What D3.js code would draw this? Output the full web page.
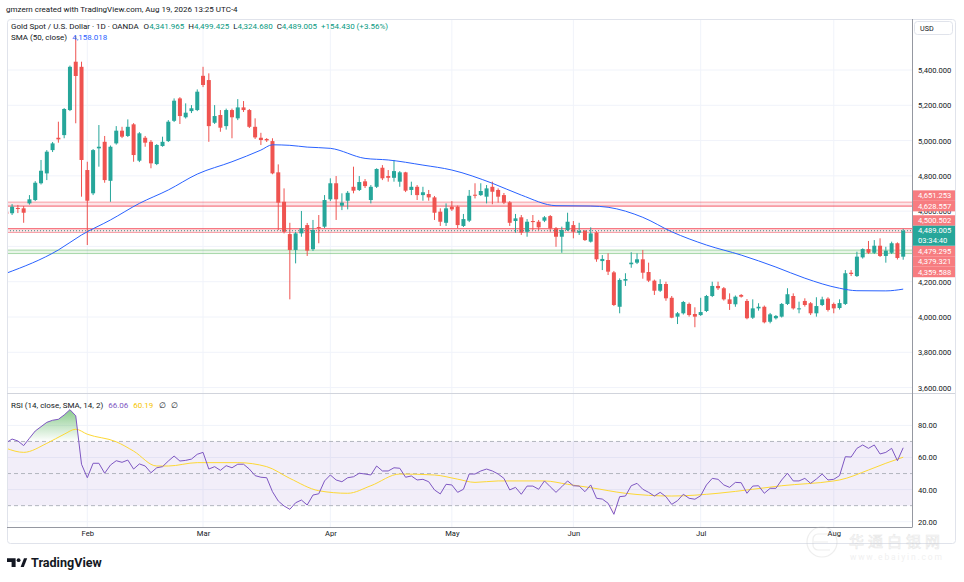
<!DOCTYPE html>
<html>
<head>
<meta charset="utf-8">
<script src="https://cdn.jsdelivr.net/npm/d3@7"></script>
<style>
  body { margin: 0; background: #fff; }
  svg { display: block; font-family: Roboto, "Liberation Sans", sans-serif; }
</style>
</head>
<body>
<svg id="chart" width="964" height="582"></svg>
<script>
// Daily candles, Jan 13 -> Aug 19 2026 (Good Friday missing)
const opens = [4597,4588,4618,4616,4644,4663,4758,4814,4946,5016,5031,5173,5447,5418,4833,4701,4956,4993,4772,4984,
  5056,5026,5092,4886,5016,4993,4867,4969,4997,5112,5239,5132,5167,5173,5367,5343,5101,5145,5082,5173,
  5126,5188,5173,5078,5016,5009,4997,4820,4653,4470,4380,4474,4521,4384,4510,4512,4667,4758,4631,4659,
  4738,4720,4769,4663,4738,4846,4799,4789,4767,4820,4720,4738,4691,4697,4678,4597,4534,4625,4625,4516,
  4546,4693,4691,4682,4738,4720,4691,4650,4544,4565,4483,4544,4540,4546,4572,4503,4455,4493,4521,4478,
  4489,4427,4479,4317,4323,4253,4058,4206,4299,4308,4327,4255,4206,4149,4187,4109,4002,4021,4074,4017,
  4011,4034,4119,4176,4163,4100,4072,4125,4091,3996,4049,4058,3973,3993,4002,4074,4119,4044,4091,4078,
  4021,4068,4104,4074,4051,4074,4251,4232,4338,4385,4364,4404,4346,4364,4418,4341.965]
const highs = [4606,4640,4635,4629,4691,4770,4890,4946,4992,5107,5184,5425,5592,5447,4880,4952,5088,5026,4972,5082,
  5078,5120,5099,5048,5026,5003,4980,5022,5116,5239,5246,5211,5201,5290,5418,5381,5201,5173,5181,5181,
  5235,5224,5179,5126,5044,5014,5013,4865,4729,4534,4482,4601,4533,4550,4578,4691,4786,4799,4701,4714,
  4852,4799,4782,4748,4843,4861,4833,4890,4827,4823,4767,4748,4738,4720,4686,4616,4644,4657,4632,4584,
  4720,4758,4758,4748,4767,4729,4703,4657,4584,4578,4555,4578,4550,4572,4578,4510,4512,4591,4544,4534,
  4493,4508,4487,4351,4361,4261,4219,4248,4367,4361,4380,4308,4212,4214,4200,4119,4028,4091,4082,4055,
  4109,4125,4200,4200,4170,4134,4122,4130,4102,4100,4078,4065,4023,4011,4079,4163,4134,4087,4106,4085,
  4112,4115,4112,4082,4100,4266,4266,4370,4389,4431,4436,4446,4398,4427,4423,4499.425]
const lows = [4572,4578,4589,4534,4637,4657,4751,4776,4935,4988,5013,5167,5098,4682,4408,4691,4852,4761,4653,4977,
  5014,5020,4880,4878,4965,4843,4861,4965,4992,5105,5094,5125,5156,5167,5303,4993,5094,5050,5062,5013,
  5116,5162,5071,5009,4975,4992,4809,4493,4474,4100,4304,4455,4346,4374,4418,4504,4657,4550,4606,4610,
  4701,4714,4731,4644,4731,4776,4767,4767,4738,4708,4691,4663,4659,4659,4550,4516,4516,4601,4503,4510,
  4538,4672,4686,4644,4639,4648,4640,4516,4478,4465,4455,4493,4493,4538,4483,4398,4364,4487,4446,4465,
  4431,4422,4313,4266,4238,4062,4021,4176,4279,4300,4217,4198,4125,4142,4092,3993,3960,4014,4002,3942,
  4006,4028,4113,4153,4093,4040,4058,4110,3987,3989,4036,3964,3964,3986,3997,4068,4042,4021,4059,4011,
  4002,4062,4031,4021,4042,4068,4232,4227,4331,4357,4357,4340,4308,4357,4326,4324.68]
const closes = [4584,4625,4612,4591,4667,4761,4829,4937,4984,5007,5179,5418,5366,4890,4659,4946,4965,4776,4965,5056,
  5022,5078,4918,5041,4988,4871,4975,4993,5107,5226,5139,5158,5183,5277,5315,5082,5139,5073,5173,5132,
  5188,5173,5078,5018,5003,5001,4814,4648,4483,4380,4474,4503,4376,4493,4506,4663,4758,4667,4648,4704,
  4716,4765,4742,4738,4839,4786,4789,4827,4820,4716,4738,4691,4707,4678,4591,4540,4616,4610,4521,4555,
  4687,4690,4714,4729,4710,4682,4648,4534,4559,4478,4540,4538,4508,4565,4503,4455,4493,4540,4483,4487,
  4436,4474,4327,4329,4257,4068,4210,4215,4308,4327,4251,4206,4149,4187,4106,3996,4021,4085,4011,4002,
  4028,4119,4176,4163,4100,4074,4115,4115,3993,4049,4058,3970,4015,4006,4074,4129,4049,4049,4068,4021,
  4062,4100,4040,4049,4079,4248,4244,4342,4385,4364,4404,4346,4376,4418,4334.575,4489.005]

// SMA(50) read as [candle index, value]
const smaPts = [[0,4248],[9,4380],[13,4465],[18,4550],[23,4644],[28,4720],[33,4810],[39,4880],[44,4946],
  [46,4976],[49,4973],[52,4963],[56,4956],[62,4899],[66,4890],[72,4861],[77,4833],[84,4758],[89,4691],
  [95,4631],[101,4629],[104,4622],[110,4565],[115,4483],[121,4408],[127,4351],[133,4283],[138,4220],
  [144,4163],[147,4149],[152,4148],[155,4158.018]]

// RSI(14), one value per candle
const rsi = [69.2,71.5,70.3,67.4,72,76.5,79.2,81.9,83.2,83.8,86.5,89.8,86,55.8,47.4,56.4,56.4,50.2,55.3,58,
  57,58.4,52.8,56,54.7,50.5,53.6,54.3,57.8,60.9,57.8,58.2,59,62,63.2,52.8,54.3,52,54.9,53.6,
  55.8,55.8,52.8,48.7,47.7,47.4,38.7,32.9,29.8,27.7,31.8,33.5,30.4,36.6,37.4,45.4,49.1,46,44.9,47.4,
  48,50.2,49.7,49.1,54.7,51.6,51.6,53.6,53.3,47.7,48.5,46,46.4,44.9,39.8,37.3,43.3,42.9,38.3,40.2,
  49.7,49.7,51.6,52.8,51.6,49.7,47,39.8,41.4,37.1,42.2,42.2,40.2,45.4,41.8,38.3,41.8,45.4,42.4,42.2,
  38.7,42.9,34.6,34.1,31.5,24.6,35.6,36,42.4,43.9,40.2,38.3,36,38.3,35.6,30.8,33.1,37.1,34.6,34,
  36.2,42.9,47,46.4,42.9,41.4,44.5,44.3,37.7,42.2,42.4,37.7,40.8,40.8,46,50.2,45.4,45.4,47,43.9,
  46.6,49.7,46,46.4,48.7,60.5,60.3,65.7,67.8,65.7,67.8,62.2,63.2,65.7,58,66.06]

// RSI-based SMA(14), [candle index, value]
const rsiMaPts = [[0,65.7],[3,63.2],[7,68.8],[10,74.5],[12,77.6],[14,74.5],[19,69.8],[22,64],[26,54.7],
  [28,54.7],[33,56.8],[40,56.8],[45,54.3],[49,47],[54,39.3],[59,37.7],[63,42.4],[68,49.7],[74,49.1],
  [78,46.5],[81,44.5],[85,45.4],[93,45.4],[97,43.3],[101,41.2],[107,37.7],[115,36],[123,37.7],[129,40.2],
  [134,42.4],[143,45.4],[144,46],[149,52.2],[152,56.4],[155,60.19]]

const monthNames = ['Feb','Mar','Apr','May','Jun','Jul','Aug']
const monthIdx = [14,34,56,77,98,120,143]
const priceTicks = [3600,3800,4000,4200,4400,4600,4800,5000,5200,5400]
const rsiTicks = [20,40,60,80]
const rsiLevels = [70,50,30]

// horizontal levels drawn on the chart
const levelValues = [4651.253,4628.557,4500.502,4479.295,4379.321,4359.588]
const zones = [[4651.253,4628.557,'red'],[4500.502,4479.295,'red'],[4379.321,4359.588,'green']]

const up = '#26A69A', down = '#EF5350'
const n = opens.length
const fmt = d3.format(',.3f')

const svg = d3.select('#chart')
const L = 7, R = 912, AR = 955, T = 19, MB = 393, RB = 527, B = 543

const x = d3.scaleLinear().domain([0, n - 1]).range([6.3, 903.2])
const y = d3.scaleLinear().domain([4000, 5400]).range([317, 70])
const yR = d3.scaleLinear().domain([20, 80]).range([521.7, 425.4])

svg.append('rect').attr('width', 964).attr('height', 582).attr('fill', '#fff')

const defs = svg.append('defs')
defs.append('clipPath').attr('id', 'clipMain').append('rect')
  .attr('x', L).attr('y', T).attr('width', R - L).attr('height', MB - T)
defs.append('clipPath').attr('id', 'clipRsi').append('rect')
  .attr('x', L).attr('y', MB).attr('width', R - L).attr('height', RB - MB)
defs.append('clipPath').attr('id', 'clipOB').append('rect')
  .attr('x', L).attr('y', MB).attr('width', R - L).attr('height', yR(70) - MB)
defs.append('clipPath').attr('id', 'clipOS').append('rect')
  .attr('x', L).attr('y', yR(30)).attr('width', R - L).attr('height', RB - yR(30))

const gOB = defs.append('linearGradient').attr('id', 'gradOB')
  .attr('gradientUnits', 'userSpaceOnUse').attr('x1', 0).attr('x2', 0)
  .attr('y1', yR(100)).attr('y2', yR(70))
gOB.append('stop').attr('offset', 0).attr('stop-color', 'rgb(76,175,80)').attr('stop-opacity', 1)
gOB.append('stop').attr('offset', 1).attr('stop-color', 'rgb(76,175,80)').attr('stop-opacity', 0)
const gOS = defs.append('linearGradient').attr('id', 'gradOS')
  .attr('gradientUnits', 'userSpaceOnUse').attr('x1', 0).attr('x2', 0)
  .attr('y1', yR(30)).attr('y2', yR(0))
gOS.append('stop').attr('offset', 0).attr('stop-color', 'rgb(255,82,82)').attr('stop-opacity', 0)
gOS.append('stop').attr('offset', 1).attr('stop-color', 'rgb(255,82,82)').attr('stop-opacity', 1)

// grid
const grid = svg.append('g')
grid.selectAll('line.hg').data(priceTicks).join('line').attr('class', 'hg')
  .attr('x1', L).attr('x2', R).attr('y1', d => y(d)).attr('y2', d => y(d))
  .attr('stroke', '#F0F3FA')
grid.selectAll('line.rg').data(rsiTicks).join('line').attr('class', 'rg')
  .attr('x1', L).attr('x2', R).attr('y1', d => yR(d)).attr('y2', d => yR(d))
  .attr('stroke', '#F0F3FA')
grid.selectAll('line.vg').data(monthIdx).join('line').attr('class', 'vg')
  .attr('x1', d => x(d)).attr('x2', d => x(d)).attr('y1', T).attr('y2', RB)
  .attr('stroke', '#F0F3FA')

// main pane
const main = svg.append('g').attr('clip-path', 'url(#clipMain)')

main.selectAll('rect.zone').data(zones).join('rect').attr('class', 'zone')
  .attr('x', L).attr('width', R - L)
  .attr('y', d => y(d[0])).attr('height', d => y(d[1]) - y(d[0]))
  .attr('fill', d => d[2] == 'red' ? 'rgba(242,54,69,0.13)' : 'rgba(76,175,80,0.13)')

const lvlColor = [ 'rgba(242,54,69,0.45)', 'rgba(242,54,69,0.8)', 'rgba(242,54,69,0.8)',
  'rgba(242,54,69,0.45)', 'rgba(76,175,80,0.45)', 'rgba(76,175,80,0.45)' ]
main.selectAll('line.lvl').data(levelValues).join('line').attr('class', 'lvl')
  .attr('x1', L).attr('x2', R).attr('y1', d => y(d)).attr('y2', d => y(d))
  .attr('stroke', (d, i) => lvlColor[i]).attr('stroke-width', 1)

const candles = main.selectAll('g.c').data(d3.range(n)).join('g').attr('class', 'c')
candles.append('line')
  .attr('x1', i => x(i)).attr('x2', i => x(i))
  .attr('y1', i => y(highs[i])).attr('y2', i => y(lows[i]))
  .attr('stroke', i => closes[i] >= opens[i] ? up : down).attr('stroke-width', 1)
candles.append('rect')
  .attr('x', i => x(i) - 2).attr('width', 4)
  .attr('y', i => y(Math.max(opens[i], closes[i])))
  .attr('height', i => Math.max(1, Math.abs(y(opens[i]) - y(closes[i]))))
  .attr('fill', i => closes[i] >= opens[i] ? up : down)

main.append('path').datum(smaPts)
  .attr('d', d3.line().x(d => x(d[0])).y(d => y(d[1])).curve(d3.curveMonotoneX))
  .attr('fill', 'none').attr('stroke', '#2962FF').attr('stroke-width', 1)

const last = closes[n - 1]
main.append('line').attr('x1', L).attr('x2', R).attr('y1', y(last)).attr('y2', y(last))
  .attr('stroke', '#3d8c84').attr('stroke-dasharray', '1,2')

// RSI pane
const rp = svg.append('g').attr('clip-path', 'url(#clipRsi)')
rp.append('rect').attr('x', L).attr('width', R - L)
  .attr('y', yR(70)).attr('height', yR(30) - yR(70)).attr('fill', 'rgba(126,87,194,0.1)')
rp.selectAll('line.rl').data(rsiLevels).join('line').attr('class', 'rl')
  .attr('x1', L).attr('x2', R).attr('y1', d => yR(d)).attr('y2', d => yR(d))
  .attr('stroke', '#B2B5BE').attr('stroke-dasharray', '4,3')
rp.append('path').datum(rsi).attr('clip-path', 'url(#clipOB)')
  .attr('d', d3.area().x((d, i) => x(i)).y0(yR(70)).y1(d => yR(d)))
  .attr('fill', 'url(#gradOB)')
rp.append('path').datum(rsi).attr('clip-path', 'url(#clipOS)')
  .attr('d', d3.area().x((d, i) => x(i)).y0(yR(30)).y1(d => yR(d)))
  .attr('fill', 'url(#gradOS)')
rp.append('path').datum(rsiMaPts)
  .attr('d', d3.line().x(d => x(d[0])).y(d => yR(d[1])).curve(d3.curveMonotoneX))
  .attr('fill', 'none').attr('stroke', '#FDD835').attr('stroke-width', 1)
rp.append('path').datum(rsi)
  .attr('d', d3.line().x((d, i) => x(i)).y(d => yR(d)))
  .attr('fill', 'none').attr('stroke', '#7E57C2').attr('stroke-width', 1)

// frame and separators
svg.append('rect').attr('x', L + 0.5).attr('y', T + 0.5).attr('width', AR - L).attr('height', B - T)
  .attr('rx', 3).attr('fill', 'none').attr('stroke', '#E0E3EB')
svg.append('line').attr('x1', L).attr('x2', AR).attr('y1', MB + 0.5).attr('y2', MB + 0.5).attr('stroke', '#D1D4DC')
svg.append('line').attr('x1', L).attr('x2', R).attr('y1', RB + 0.5).attr('y2', RB + 0.5).attr('stroke', '#9598A1')
svg.append('line').attr('x1', R + 0.5).attr('x2', R + 0.5).attr('y1', T).attr('y2', RB + 0.5).attr('stroke', '#9598A1')

// price labels stacked around the last price
const boxH = 10.5
const curTop = y(last) - 5
const curBot = curTop + 20
const placed = []
let edge = curTop
levelValues.filter(v => v > last).sort((a, b) => a - b).forEach(v => {
  const c = Math.min(y(v), edge - boxH / 2); placed.push([v, c]); edge = c - boxH / 2
})
edge = curBot
levelValues.filter(v => v < last).sort((a, b) => b - a).forEach(v => {
  const c = Math.max(y(v), edge + boxH / 2); placed.push([v, c]); edge = c + boxH / 2
})

// merged vertical extents covered by the label boxes
const spans = placed.map(d => [d[1] - boxH / 2, d[1] + boxH / 2]).concat([[curTop, curBot]])
  .sort((a, b) => a[0] - b[0])
const merged = []
spans.forEach(s => {
  const m = merged[merged.length - 1]
  if (m && s[0] <= m[1] + 1) m[1] = Math.max(m[1], s[1]); else merged.push(s.slice())
})
const hidden = v => merged.some(m => m[0] < y(v) - 2 && m[1] > y(v) + 2)

// axes
const axPrice = svg.append('g').attr('transform', `translate(${R},0)`)
  .call(d3.axisRight(y).tickValues(priceTicks.filter(v => !hidden(v))).tickFormat(fmt).tickSize(0).tickPadding(6))
const axRsi = svg.append('g').attr('transform', `translate(${R},0)`)
  .call(d3.axisRight(yR).tickValues(rsiTicks).tickFormat(d3.format('.2f')).tickSize(0).tickPadding(6))
const axTime = svg.append('g').attr('transform', `translate(0,${RB})`)
  .call(d3.axisBottom(x).tickValues(monthIdx).tickFormat((d, k) => monthNames[k]).tickSize(0).tickPadding(4))
;[axPrice, axRsi, axTime].forEach(a => {
  a.select('.domain').remove()
  a.selectAll('text').attr('fill', '#131722').attr('font-size', 7.6).attr('font-family', 'Roboto, sans-serif')
})

// USD box
svg.append('rect').attr('x', 914.5).attr('y', 21.5).attr('width', 38).attr('height', 13).attr('rx', 3)
  .attr('fill', '#fff').attr('stroke', '#E0E3EB')
svg.append('text').attr('x', 920).attr('y', 31).attr('font-size', 7.2).attr('fill', '#131722').text('USD')

const pl = svg.append('g')
pl.selectAll('rect').data(placed).join('rect')
  .attr('x', R + 1).attr('width', AR - R - 1).attr('y', d => d[1] - boxH / 2).attr('height', boxH)
  .attr('fill', '#F77C80')
pl.selectAll('text').data(placed).join('text')
  .attr('x', 918).attr('y', d => d[1] + 2.7).attr('font-size', 7.6).attr('fill', '#fff')
  .text(d => fmt(d[0]))
pl.append('rect').attr('x', R + 1).attr('width', AR - R - 1).attr('y', curTop).attr('height', 20)
  .attr('fill', up)
pl.append('text').attr('x', 918).attr('y', y(last) + 2.7).attr('font-size', 7.6).attr('fill', '#fff').text(fmt(last))
pl.append('text').attr('x', 918).attr('y', y(last) + 12).attr('font-size', 7.6).attr('fill', '#fff').text('03:34:40')

// legends
const teal = '#089981'
svg.append('text').attr('x', 6).attr('y', 12).attr('font-size', 8).attr('fill', '#131722')
  .text('gmzern created with TradingView.com, Aug 19, 2026 13:25 UTC-4')

const chg = last - closes[n - 2]
const leg1 = [
  ['Gold Spot / U.S. Dollar · 1D · OANDA', '#131722', 0],
  ['O', '#131722', 5], [fmt(opens[n - 1]), teal, 0],
  ['H', '#131722', 4], [fmt(highs[n - 1]), teal, 0],
  ['L', '#131722', 4], [fmt(lows[n - 1]), teal, 0],
  ['C', '#131722', 4], [fmt(last), teal, 0],
  [(chg >= 0 ? '+' : '') + fmt(chg) + ' (' + (chg >= 0 ? '+' : '') + d3.format('.2f')(chg / closes[n - 2] * 100) + '%)', teal, 4]
]
const t1 = svg.append('text').attr('x', 11).attr('y', 29).attr('font-size', 8)
leg1.forEach(d => t1.append('tspan').attr('dx', d[2]).attr('fill', d[1]).text(d[0]))

const t2 = svg.append('text').attr('x', 11).attr('y', 40).attr('font-size', 8)
t2.append('tspan').attr('fill', '#131722').text('SMA (50, close)')
t2.append('tspan').attr('dx', 5).attr('fill', '#2962FF').text(fmt(smaPts[smaPts.length - 1][1]))

const t3 = svg.append('text').attr('x', 11).attr('y', 408).attr('font-size', 8)
t3.append('tspan').attr('fill', '#131722').text('RSI (14, close, SMA, 14, 2)')
t3.append('tspan').attr('dx', 5).attr('fill', '#7E57C2').text(d3.format('.2f')(rsi[n - 1]))
t3.append('tspan').attr('dx', 5).attr('fill', '#F5C400').text(d3.format('.2f')(rsiMaPts[rsiMaPts.length - 1][1]))
t3.append('tspan').attr('dx', 6).attr('fill', '#131722').text('∅')
t3.append('tspan').attr('dx', 5).attr('fill', '#131722').text('∅')

// TradingView logo
const logo = svg.append('g').attr('fill', '#131722')
logo.append('path').attr('d', 'M7,558.3 h8.6 v8.6 h-4 v-4.9 h-4.6 z')
logo.append('circle').attr('cx', 18.6).attr('cy', 560.2).attr('r', 1.9)
logo.append('path').attr('d', 'M20.6,566.9 L24,558.3 h3.2 l-3.4,8.6 z')
svg.append('text').attr('x', 31).attr('y', 567).attr('font-size', 12.6).attr('font-weight', 'bold')
  .attr('fill', '#131722').text('TradingView')

// faint watermark bottom right
const wm = svg.append('g').attr('opacity', 0.3)
wm.append('circle').attr('cx', 822).attr('cy', 542).attr('r', 15).attr('fill', 'none').attr('stroke', '#c8c8c8').attr('stroke-width', 1.2)
wm.append('path').attr('d', 'M830,534 h-12 a5,5 0 0 0 -5,5 v6 a5,5 0 0 0 5,5 h12 M814,542 h14')
  .attr('fill', 'none').attr('stroke', '#c8c8c8').attr('stroke-width', 1.2)
wm.append('text').attr('x', 849).attr('y', 547).attr('font-size', 15).attr('letter-spacing', 4)
  .attr('font-family', '"Noto Sans CJK SC", sans-serif').attr('fill', '#fff').attr('stroke', '#b8b8b8').attr('stroke-width', 0.7)
  .text('华通白银网')
wm.append('text').attr('x', 850).attr('y', 560).attr('font-size', 8.5).attr('letter-spacing', 1.8)
  .attr('fill', '#d0d0d0').text('www.ebaiyin.com')
</script>
</body>
</html>
